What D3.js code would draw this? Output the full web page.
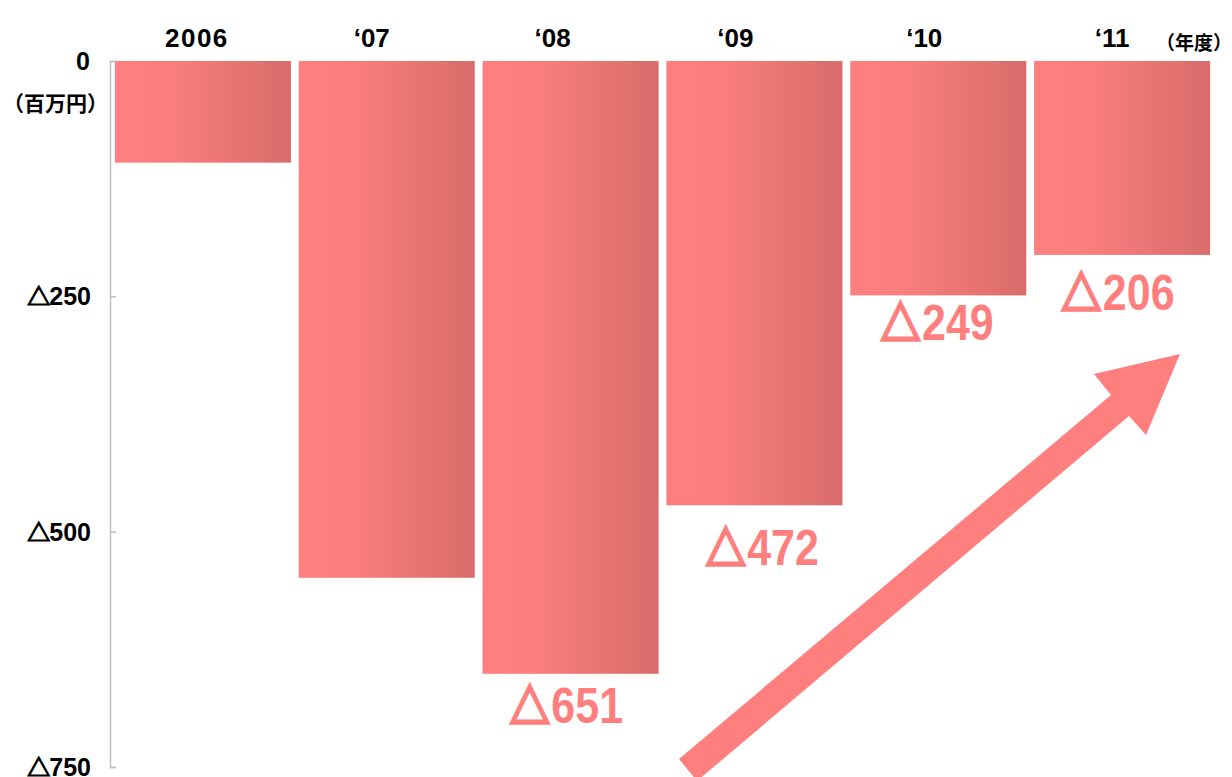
<!DOCTYPE html>
<html><head><meta charset="utf-8">
<script src="https://cdn.jsdelivr.net/npm/d3@7"></script>
<style>
html,body{margin:0;padding:0;background:#fff;}
svg{display:block;}
</style></head>
<body>
<script>
// ---- data ----
const categories = ["2006", "\u201807", "\u201808", "\u201809", "\u201810", "\u201811"];
const values = [-108, -549, -651, -472, -249, -206];
const labelledCategories = ["\u201808", "\u201809", "\u201810", "\u201811"];
const yTicks = [0, -250, -500, -750];
const yTickLabels = ["0", "250", "500", "750"];
const negMark = "\u25B3";
const yUnit = "\uFF08\u767E\u4E07\u5186\uFF09";
const xUnit = "\uFF08\u5E74\u5EA6\uFF09";

const W = 1232, H = 777;
const svg = d3.select("body").append("svg").attr("width", W).attr("height", H);

const x = d3.scaleBand().domain(categories).range([111, 1214]).paddingInner(0.0425).paddingOuter(0.0212);
const y = d3.scaleLinear().domain([0, -750]).range([61, 767]);

const defs = svg.append("defs");
const grad = defs.append("linearGradient").attr("id", "barGrad").attr("x1", "0").attr("x2", "1").attr("y1", "0").attr("y2", "0");
grad.append("stop").attr("offset", "0").attr("stop-color", "#FF7F7F");
grad.append("stop").attr("offset", "0.3").attr("stop-color", "#FA7E7E");
grad.append("stop").attr("offset", "1").attr("stop-color", "#D96C6A");

// bars
svg.append("g").selectAll("rect").data(categories).join("rect")
  .attr("x", d => x(d))
  .attr("y", y(0))
  .attr("width", x.bandwidth())
  .attr("height", (d, i) => y(values[i]) - y(0))
  .attr("fill", "url(#barGrad)");

// axis (ticks pointing right)
const axis = svg.append("g").attr("transform", "translate(110,0)")
  .call(d3.axisRight(y).tickValues(yTicks).tickSize(6).tickSizeOuter(6).tickFormat(""));
axis.select(".domain").attr("stroke", "#BFBFBF").attr("stroke-width", 1.5);
axis.selectAll(".tick line").attr("stroke", "#BFBFBF").attr("stroke-width", 1.5);

// y tick labels
const yl = svg.append("g").selectAll("text").data(yTicks).join("text")
  .attr("x", 91).attr("y", d => y(d) + 9)
  .attr("text-anchor", "end")
  .attr("font-family", "'Liberation Sans', Arial, sans-serif")
  .attr("font-weight", "bold").attr("font-size", 25).attr("fill", "#000");
yl.filter(d => d < 0).append("tspan")
  .attr("font-family", "'Noto Sans CJK JP', sans-serif").attr("font-size", 23)
  .attr("stroke", "#000").attr("stroke-width", 1.2)
  .text(negMark);
yl.append("tspan").attr("dx", -1).text((d, i) => yTickLabels[i]);

// y unit
svg.append("text").attr("x", 108).attr("y", 111).attr("text-anchor", "end")
  .attr("font-family", "'Noto Sans CJK JP', sans-serif").attr("font-weight", "bold")
  .attr("font-size", 21).attr("fill", "#000").text(yUnit);

// x category labels
const catDx = [-6, -15, -18, -19, -14, -10];
svg.append("g").selectAll("text").data(categories).join("text")
  .attr("x", (d, i) => x(d) + x.bandwidth() / 2 + catDx[i]).attr("y", 47)
  .attr("text-anchor", "middle")
  .attr("font-family", "'Liberation Sans', Arial, sans-serif")
  .attr("font-weight", "bold").attr("font-size", 26).attr("fill", "#000")
  .attr("letter-spacing", (d, i) => i === 0 ? 1.5 : 0)
  .text(d => d);

// x unit
svg.append("text").attr("x", 1232).attr("y", 50).attr("text-anchor", "end")
  .attr("font-family", "'Noto Sans CJK JP', sans-serif").attr("font-weight", "bold")
  .attr("font-size", 19).attr("fill", "#000").text(xUnit);

// value labels
const labDy = [49, 60, 45, 55];
const labDx = [-4, 8, -1, -4];
const vl = svg.append("g").selectAll("text").data(labelledCategories).join("text")
  .attr("transform", (d, i) => `translate(${x(d) + x.bandwidth() / 2 + labDx[i]},${y(values[categories.indexOf(d)]) + labDy[i]}) scale(0.86,1)`)
  .attr("text-anchor", "middle")
  .attr("font-family", "'Liberation Sans', Arial, sans-serif")
  .attr("font-weight", "bold").attr("font-size", 50).attr("fill", "#FF7F7F");
vl.append("tspan").attr("font-family", "'Noto Sans CJK JP', sans-serif").attr("font-size", 46)
  .attr("stroke", "#FF7F7F").attr("stroke-width", 3.2).attr("stroke-linejoin", "miter")
  .text(negMark);
vl.append("tspan").attr("dx", 2).text(d => Math.abs(values[categories.indexOf(d)]));

// trend arrow (annotation)
const arrowPts = [[679,759],[1111,395],[1094,374],[1180,354],[1146,435],[1129,416],[697,781]];
svg.append("path").attr("d", d3.line()(arrowPts) + "Z").attr("fill", "#FF7F7F");
</script>
</body></html>
